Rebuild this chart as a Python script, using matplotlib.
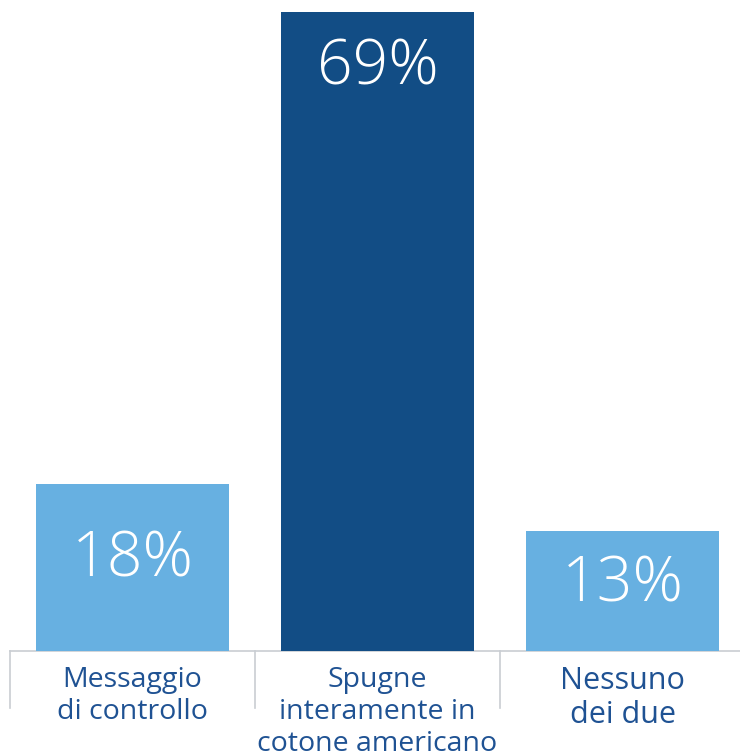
import matplotlib
matplotlib.use("Agg")
import matplotlib.pyplot as plt
from matplotlib.transforms import blended_transform_factory, offset_copy

categories = ["Messaggio\ndi controllo", "Spugne\ninteramente in\ncotone americano", "Nessuno\ndei due"]
values = [18, 69, 13]
value_labels = ["18%", "69%", "13%"]

bar_colors = ["#67b0e1", "#124d85", "#67b0e1"]
label_offsets_px = [76, 56, 54]
cat_sizes = [20.5, 20.5, 22]
cat_spacing = [1.2, 1.2, 1.18]
text_color = "#1f5293"
grid_color = "#c9cdd2"

W, H = 740, 755
fig = plt.figure(figsize=(W / 100, H / 100), dpi=100)
ax = fig.add_axes([10 / W, (H - 651) / H, 735 / W, 639 / H])
ax.set_xlim(-0.5, 2.5)
ax.set_ylim(0, 69)
ax.axis("off")

x = list(range(len(categories)))
ax.bar(x, values, width=0.784, color=bar_colors, zorder=2)

for xi, v, lab, off in zip(x, values, value_labels, label_offsets_px):
    tr = offset_copy(ax.transData, fig=fig, x=0, y=-off * 72 / 100, units="points")
    ax.text(xi, v, lab, transform=tr, ha="center", va="center", color="white",
            fontsize=45, family="Open Sans", fontweight="light")

# baseline
ax.plot([-0.5, 2.5], [0, 0], color=grid_color, lw=1.2, clip_on=False, zorder=1)
bt = blended_transform_factory(ax.transData, ax.transAxes)
for sx in [-0.5, 0.5, 1.5, 2.5]:
    ax.plot([sx, sx], [0, -57 / 639], color=grid_color, lw=1.2, transform=bt, clip_on=False)

for xi, c, fs, ls in zip(x, categories, cat_sizes, cat_spacing):
    ax.text(xi, -15 / 639, c, transform=bt, ha="center", va="top", color=text_color,
            fontsize=fs, family="Open Sans", linespacing=ls, clip_on=False)

fig.savefig("out.png", dpi=100)
